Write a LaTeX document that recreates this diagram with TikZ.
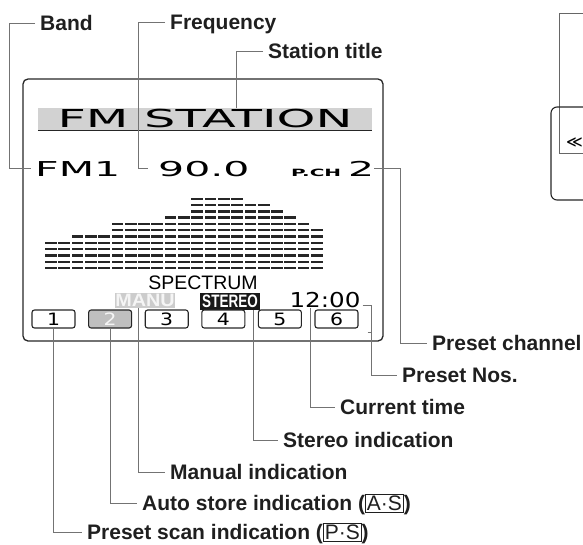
\documentclass[tikz,border=0pt]{standalone}
\usepackage{fontspec}
\usepackage{graphicx}
\setmainfont{Liberation Sans}
\newfontfamily\lcdfont[FakeStretch=2]{DejaVu Sans}
\newfontfamily\clockfont[FakeStretch=1.2]{DejaVu Sans}
\newfontfamily\symfont{DejaVu Sans}
\newcommand{\keycap}[1]{{\setlength{\fboxsep}{1pt}\setlength{\fboxrule}{0.9pt}\fbox{\mdseries #1}}}
\tikzset{
  lcdframe/.style  = {draw=black!85, line width=1.3pt, rounded corners=5pt, inner sep=0pt},
  titlebar/.style  = {fill=gray!35, inner sep=0pt, minimum width=334pt, minimum height=22pt,
                      font=\lcdfont\fontsize{24.7}{26}\selectfont},
  lcdtext/.style   = {anchor=base west, inner sep=0pt, text height=15pt, text depth=0pt,
                      font=\lcdfont\fontsize{20.5}{24}\selectfont},
  clockdigits/.style = {inner sep=0pt, font=\clockfont\fontsize{20.5}{24}\selectfont},
  presetbox/.style = {draw=black!85, line width=1.1pt, rounded corners=2.5pt, inner sep=0pt,
                      minimum width=43pt, minimum height=18pt,
                      font=\clockfont\fontsize{17}{17}\selectfont},
  presetlit/.style = {presetbox, fill=gray!50, text=gray!8},
  manuflag/.style  = {fill=gray!40, text=gray!8, inner sep=0pt, minimum width=60pt,
                      minimum height=15pt, font=\bfseries\fontsize{18}{18}\selectfont},
  stereoflag/.style = {fill=black!90, text=white, inner sep=0pt, minimum width=60pt,
                      minimum height=17pt, font=\bfseries\fontsize{18}{18}\selectfont},
  callout/.style   = {anchor=west, inner xsep=5pt, inner ysep=0pt, text height=15pt,
                      text depth=0pt, text=black!88, font=\bfseries\fontsize{21}{25}\selectfont},
  leader/.style    = {draw=black!55, line width=0.7pt}
}

\begin{document}
\begin{tikzpicture}[x=1pt, y=-1pt]
\useasboundingbox (0,0) rectangle (583,544);
% Display frame and station title bar
\node[lcdframe, minimum width=360pt, minimum height=262pt] (display) at (203,210) {};
\node[titlebar] (titleband) at (205,119) {FM STATION};
\draw[black!85, line width=1.3pt] (titleband.south west) -- (titleband.south east);
% Band, frequency and preset channel
\node[lcdtext] (fm1) at (35,176) {FM1};
\node[lcdtext] (freq) at (158,176) {90.0};
\node[lcdtext, text height=7pt, font=\lcdfont\bfseries\fontsize{10}{10}\selectfont] (pch) at (291,176) {P.CH};
\node[lcdtext] (chan) at (348,176) {2};
% Spectrum bars
\foreach \h [count=\k from 0] in {5,5,6,6,6,8,8,8,8,9,9,12,12,12,12,11,11,10,9,8,7} {
  \foreach \r in {1,...,\h}
    \fill[black!85] ({45+13.3*\k},{269.2-6.3*(\r-1)}) rectangle ++(11.7,-2.4);
}
\node[inner sep=0pt, font=\fontsize{19.5}{22}\selectfont] (spectrum) at (203,283) {SPECTRUM};
% Status line
\node[manuflag] (manu) at (145,300.5) {\scalebox{1.1}[1]{MANU}};
\node[stereoflag] (stereo) at (230,301.5) {\scalebox{0.75}[1]{STEREO}};
\node[clockdigits] (clock) at (325,300.5) {12:00};
% Preset buttons
\foreach \i/\st in {1/presetbox, 2/presetlit, 3/presetbox, 4/presetbox, 5/presetbox, 6/presetbox} {
  \node[\st] (box\i) at ({53.5+56.6*(\i-1)},319) {\i};
}
% Neighbouring unit, cut off at the right
\draw[black!60, line width=0.6pt] (590,13) -- (559,13) -- (559,153) -- (590,153);
\draw[black!85, line width=1.1pt, rounded corners=6pt] (590,107) -- (551,107) -- (551,200) -- (590,200);
\node[anchor=west, inner sep=0pt, font=\symfont\fontsize{16}{16}\selectfont] (rewind) at (566,143) {≪};
% Callouts
\node[callout] (lblband) at (35,23) {Band};
\node[callout] (lblfreq) at (165,22) {Frequency};
\node[callout] (lbltitle) at (263,51) {Station title};
\node[callout] (lblchan) at (427,343) {Preset channel};
\node[callout] (lblnos) at (397,375) {Preset Nos.};
\node[callout] (lbltime) at (335,407) {Current time};
\node[callout] (lblstereo) at (278,440) {Stereo indication};
\node[callout] (lblmanu) at (165,472) {Manual indication};
\node[callout] (lblauto) at (137,503) {Auto store indication (\keycap{A·S})};
\node[callout] (lblscan) at (82,532) {Preset scan indication (\keycap{P·S})};
% Leader lines
\draw[leader, shorten >=4pt] (lblband.west) -- ++(-26,0) |- (fm1.west);
\draw[leader, shorten >=10pt] (lblfreq.west) -- ++(-27,0) |- (freq.west);
\draw[leader] (lbltitle.west) -- ++(-27,0) coordinate (tk) -- (tk |- titleband.north);
\draw[leader] (chan.east) -- ++(26,0) |- (lblchan.west);
\draw[leader] ([shift={(4pt,4pt)}]box6.north east) -- ++(9,0) |- (lblnos.west);
\draw[leader] ([shift={(9pt,-4pt)}]box6.south east) -- ++(4,0);
\draw[leader] ([xshift=-15pt]clock.south) |- (lbltime.west);
\draw[leader] ([xshift=23pt]stereo.south) |- (lblstereo.west);
\draw[leader] ([xshift=-7pt]manu.south) |- (lblmanu.west);
\draw[leader] (box2.south) |- (lblauto.west);
\draw[leader] (box1.south) |- (lblscan.west);
\end{tikzpicture}
\end{document}
